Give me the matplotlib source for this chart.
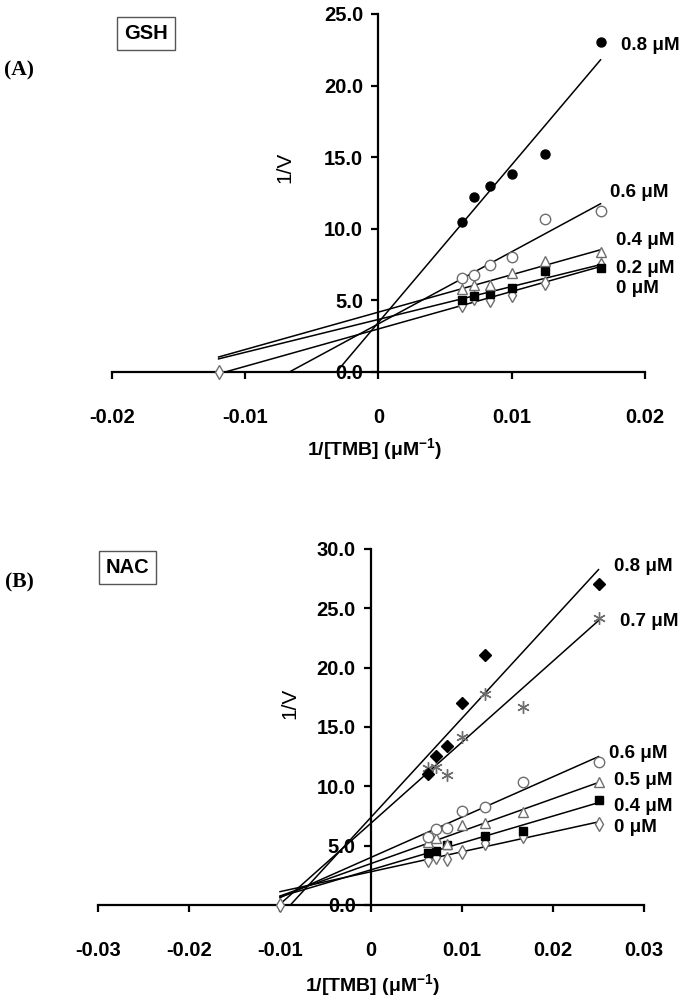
import numpy as np
import matplotlib
matplotlib.use('Agg')
import matplotlib.pyplot as plt
from matplotlib.ticker import FuncFormatter

plt.rcParams['font.family'] = ['Liberation Sans', 'DejaVu Sans']
plt.rcParams['axes.unicode_minus'] = False
plt.rcParams['mathtext.fontset'] = 'custom'
plt.rcParams['mathtext.rm'] = 'Liberation Sans:bold'
plt.rcParams['mathtext.bf'] = 'Liberation Sans:bold'

# ---- data: panel A (GSH) ----
gsh_x = [1/160, 1/140, 1/120, 1/100, 1/80, 1/60]
gsh_0 = [4.70, 5.14, 5.03, 5.38, 6.20, 7.50]
gsh_02 = [5.05, 5.33, 5.45, 5.86, 7.05, 7.25]
gsh_04 = [5.80, 6.10, 6.05, 6.90, 7.77, 8.35]
gsh_06 = [6.54, 6.77, 7.47, 8.05, 10.70, 11.27]
gsh_08 = [10.45, 12.20, 12.95, 13.85, 15.25, 23.05]
gsh_names = ['0 μM', '0.2 μM', '0.4 μM', '0.6 μM', '0.8 μM']
gsh_xint = -0.0120

# ---- data: panel B (NAC) ----
nac_x = [1/160, 1/140, 1/120, 1/100, 1/80, 1/60, 1/40]
nac_0 = [3.80, 4.05, 3.85, 4.50, 5.20, 5.85, 6.80]
nac_04 = [4.40, 4.55, 5.06, np.nan, 5.85, 6.26, 8.85]
nac_05 = [5.30, 5.62, 5.12, 6.70, 6.94, 7.83, 10.40]
nac_06 = [5.76, 6.38, 6.46, 7.95, 8.27, 10.40, 12.03]
nac_07 = [11.52, 11.66, 10.96, 14.14, 17.79, 16.67, 24.17]
nac_08 = [11.05, 12.56, 13.40, 16.98, 21.08, np.nan, 27.07]
nac_names = ['0 μM', '0.4 μM', '0.5 μM', '0.6 μM', '0.7 μM', '0.8 μM']
nac_xint = -0.0100

# ---- styles / layout ----
GREY = '#6e6e6e'
open_d = dict(marker='d', ms=7.5, mfc='white', mec=GREY, mew=1.0)
fill_s = dict(marker='s', ms=6, mfc='black', mec='black')
open_t = dict(marker='^', ms=7.5, mfc='white', mec=GREY, mew=1.0)
open_o = dict(marker='o', ms=7.5, mfc='white', mec=GREY, mew=1.0)
fill_o = dict(marker='o', ms=6.5, mfc='black', mec='black')
fill_d = dict(marker='D', ms=6, mfc='black', mec='black')
star = dict(marker=(6, 2, 0), ms=9, mec=GREY, mew=1.0)

gsh_styles = [open_d, fill_s, open_t, open_o, fill_o]
nac_styles = [open_d, fill_s, open_t, open_o, star, fill_d]
gsh_label_pos = [(0.0178, 5.85), (0.0178, 7.25), (0.0178, 9.2), (0.0174, 12.5), (0.0182, 22.8)]
nac_label_pos = [(0.0267, 6.5), (0.0267, 8.3), (0.0267, 10.5), (0.0261, 12.8), (0.0274, 23.9), (0.0267, 28.5)]

TICK_FS = 14.5
LAB_FS = 13.5


def draw_panel(ax, xs, series, names, styles, label_pos, x_start, xlim, ylim, ystep):
    xs = np.array(xs)
    for ys, name, st, (lx, ly) in zip(series, names, styles, label_pos):
        ys = np.array(ys, dtype=float)
        ok = ~np.isnan(ys)
        k, b = np.polyfit(xs[ok], ys[ok], 1)
        xx = np.array([x_start, xs[ok].max()])
        ax.plot(xx, k * xx + b, color='black', lw=1.1, zorder=2)
        ax.plot(xs[ok], ys[ok], linestyle='none', zorder=3, **st)
        ax.text(lx, ly, name, fontsize=LAB_FS, fontweight='bold', ha='left', va='center')
    ax.plot([x_start], [0], linestyle='none', clip_on=False, zorder=4, **open_d)

    ax.set_xlim(*xlim)
    ax.set_ylim(*ylim)
    for s in ['top', 'right']:
        ax.spines[s].set_visible(False)
    ax.spines['left'].set_position(('data', 0))
    for s in ['left', 'bottom']:
        ax.spines[s].set_linewidth(1.6)
    ax.set_xticks(np.arange(xlim[0], xlim[1] + 1e-9, 0.01))
    ax.set_yticks(np.arange(ylim[0], ylim[1] + 1e-9, ystep))
    ax.xaxis.set_major_formatter(FuncFormatter(lambda v, _: '0' if abs(v) < 1e-9 else f'{v:.2f}'))
    ax.yaxis.set_major_formatter(FuncFormatter(lambda v, _: f'{v:.1f}'))
    ax.tick_params(axis='both', direction='out', length=5, width=1.6, labelsize=TICK_FS)
    ax.tick_params(axis='x', pad=21)
    ax.tick_params(axis='y', pad=6)
    for t in ax.get_xticklabels() + ax.get_yticklabels():
        t.set_fontweight('bold')


fig = plt.figure(figsize=(6.82, 10.08), dpi=100)

axA = fig.add_axes([0.1642, 0.631, 0.7815, 0.3552])
draw_panel(axA, gsh_x, [gsh_0, gsh_02, gsh_04, gsh_06, gsh_08], gsh_names, gsh_styles,
           gsh_label_pos, gsh_xint, (-0.02, 0.02), (0, 25), 5)

axB = fig.add_axes([0.1437, 0.1022, 0.8006, 0.3532])
draw_panel(axB, nac_x, [nac_0, nac_04, nac_05, nac_06, nac_07, nac_08], nac_names, nac_styles,
           nac_label_pos, nac_xint, (-0.03, 0.03), (0, 30), 5)

# axis titles, panel letters and boxed labels
xlab = r'1/[TMB] (μM$^{\mathrm{-1}}$)'
fig.text(0.550, 0.5536, xlab, fontsize=14, fontweight='bold', ha='center', va='center')
fig.text(0.547, 0.022, xlab, fontsize=14, fontweight='bold', ha='center', va='center')
fig.text(0.418, 0.834, '1/V', fontsize=15, rotation=90, ha='center', va='center')
fig.text(0.425, 0.3026, '1/V', fontsize=15, rotation=90, ha='center', va='center')

fig.text(0.028, 0.9296, '(A)', family='Liberation Serif', fontsize=15.5, fontweight='bold',
         ha='center', va='center')
fig.text(0.028, 0.4226, '(B)', family='Liberation Serif', fontsize=15.5, fontweight='bold',
         ha='center', va='center')

box = dict(boxstyle='square,pad=0.35', fc='white', ec='#555555', lw=1.0)
fig.text(0.214, 0.967, 'GSH', fontsize=14.5, fontweight='bold', ha='center', va='center', bbox=box)
fig.text(0.187, 0.437, 'NAC', fontsize=14.5, fontweight='bold', ha='center', va='center', bbox=box)

fig.savefig('out.png', dpi=100, facecolor='white')
